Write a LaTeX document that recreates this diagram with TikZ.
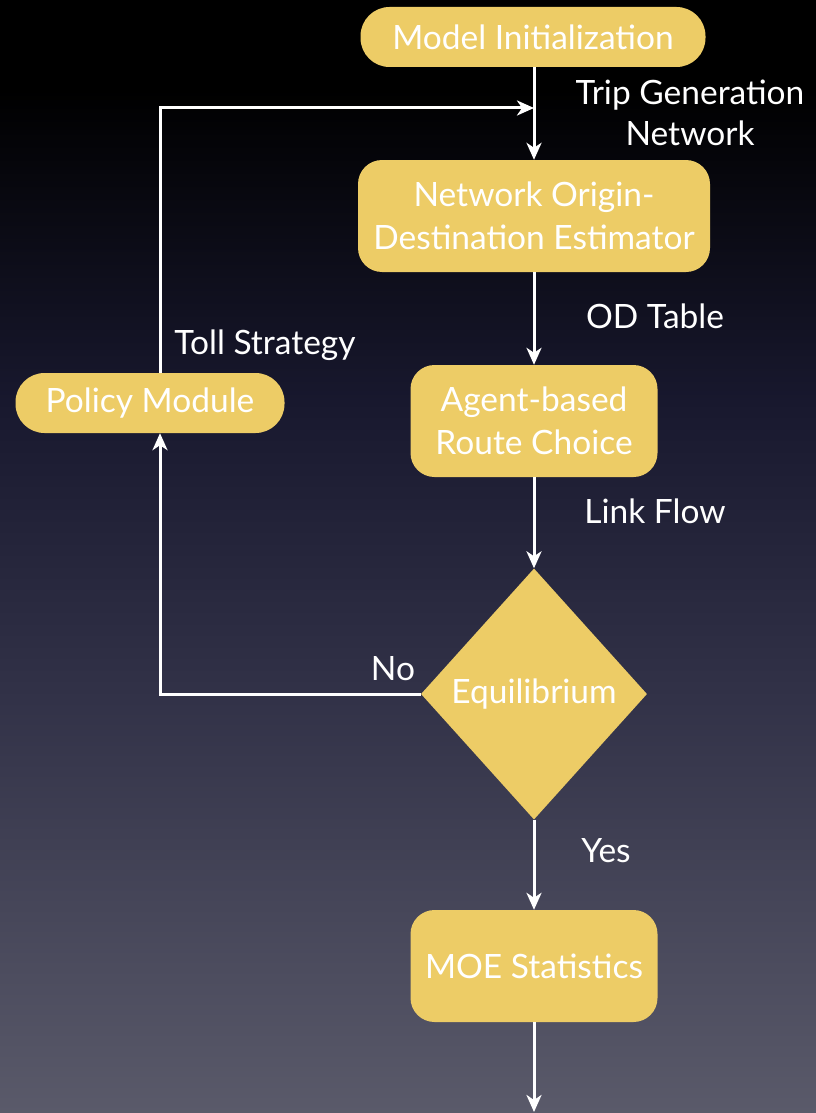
\documentclass[tikz,border=0pt]{standalone}
\usepackage{fontspec}
\setmainfont{Lato}
\usetikzlibrary{shapes.geometric,arrows.meta}

% backdrop: black at the top fading into a slate blue-grey
\definecolor{bgtop}{RGB}{0,0,0}
\definecolor{bgmid}{RGB}{24,24,46}
\definecolor{bglow}{RGB}{50,50,72}
\definecolor{bgbot}{RGB}{90,90,106}
\definecolor{boxfill}{RGB}{237,204,102}
\pgfdeclareverticalshading{backdrop}{100bp}{%
  color(0bp)=(bgbot); color(25bp)=(bgbot); color(43.6bp)=(bglow);
  color(57bp)=(bgmid); color(71bp)=(bgtop); color(75bp)=(bgtop); color(100bp)=(bgtop)}

\tikzset{
  box/.style={fill=boxfill, text=white, align=center, inner sep=0pt,
    font=\fontsize{33.5}{43}\selectfont},
  pill/.style={box, rounded corners=29pt, minimum height=60pt},
  block/.style={box, rounded corners=24pt, minimum height=112pt},
  decision/.style={box, diamond, minimum width=226pt, minimum height=251pt},
  flowlabel/.style={text=white, align=center, inner sep=0pt,
    font=\fontsize{33.5}{41}\selectfont},
  flow/.style={draw=white, line width=3pt,
    -{Stealth[length=17pt, width=15pt, inset=5pt]}},
}

\begin{document}
\begin{tikzpicture}[x=1pt, y=-1pt]
  \useasboundingbox (0,0) rectangle (816,1113);
  \shade[shading=backdrop] (0,0) rectangle (816,1113);

  % process boxes
  \node[pill,  minimum width=345pt] (init)   at (533,37)  {Model Initialization};
  \node[block, minimum width=352pt] (od)     at (534,216) {Network Origin-\\Destination Estimator};
  \node[block, minimum width=247pt] (route)  at (534,421) {Agent-based\\Route Choice};
  \node[decision]                   (eq)     at (534,694) {Equilibrium};
  \node[block, minimum width=247pt] (moe)    at (534,966) {MOE Statistics};
  \node[pill,  minimum width=269pt] (policy) at (150,403) {Policy Module};

  % helper points for the feedback loop and the outgoing arrow
  \coordinate (loopx) at (160,403);
  \coordinate (join)  at (534,108);
  \coordinate (exit)  at (534,1112);

  % main flow
  \draw[flow] (init.south -| join) -- (od.north -| join);
  \draw[flow] (od) -- (route);
  \draw[flow] (route) -- (eq);
  \draw[flow] (eq) -- (moe);
  \draw[flow] (moe) -- (exit);

  % feedback loop through the policy module
  \draw[flow] (eq.west) -| (policy.south -| loopx);
  \draw[flow] (policy.north -| loopx) |- (join);

  % flow labels
  \node[flowlabel] (ltrip) at (690,113) {Trip Generation\\Network};
  \node[flowlabel] (lod)   at (655,316) {OD Table};
  \node[flowlabel] (llink) at (655,511) {Link Flow};
  \node[flowlabel] (ltoll) at (265,345) {Toll Strategy};
  \node[flowlabel] (lno)   at (393,669) {No};
  \node[flowlabel] (lyes)  at (606,851) {Yes};
\end{tikzpicture}
\end{document}
